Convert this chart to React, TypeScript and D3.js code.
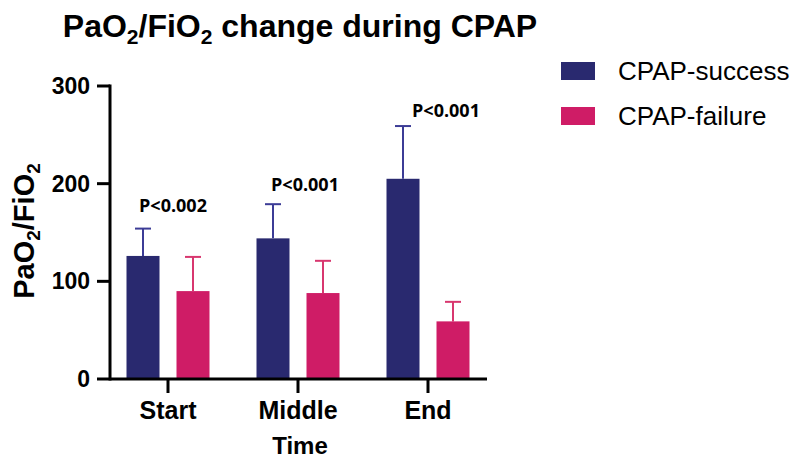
import React from "react";
import { scaleBand, scaleLinear } from "d3";

const categories = ["Start", "Middle", "End"];
const seriesNames = ["CPAP-success", "CPAP-failure"];
const successMean = [126, 144, 205];
const successSD = [28, 35, 54];
const failureMean = [90, 88, 59];
const failureSD = [35, 33, 20];
const pLabels = ["P<0.002", "P<0.001", "P<0.001"];
const yTicks = [0, 100, 200, 300];

const barColors = ["#29296f", "#cf1c66"];
const errColors = ["#3c3c96", "#d8376f"];
// annotation nudges (px) relative to category centre / error cap
const pLabelDx = [5, 7, 18];
const pLabelDy = [-17, -13, -9];

const App = () => {
  const width = 799;
  const height = 462;

  const x0 = scaleBand<string>().domain(categories).range([103, 493]);
  const x1 = scaleBand<string>()
    .domain(seriesNames)
    .range([0, x0.bandwidth()])
    .paddingInner(0.34)
    .paddingOuter(0.47);
  const y = scaleLinear().domain([0, 300]).range([379, 86]);

  const series = [
    { name: seriesNames[0], mean: successMean, sd: successSD },
    { name: seriesNames[1], mean: failureMean, sd: failureSD },
  ];

  const font = "'Liberation Sans', Arial, sans-serif";

  return (
    <svg
      width={width}
      height={height}
      style={{ position: "absolute", left: 0, top: 0, background: "#fff" }}
    >
      <text x={300} y={37} textAnchor="middle" fontFamily={font} fontWeight="bold" fontSize={32}>
        PaO<tspan fontSize={21} dy={7}>2</tspan>
        <tspan dy={-7}>/FiO</tspan>
        <tspan fontSize={21} dy={7}>2</tspan>
        <tspan dy={-7}> change during CPAP</tspan>
      </text>

      {series.map((s, si) =>
        categories.map((c, ci) => {
          const bx = (x0(c) ?? 0) + (x1(s.name) ?? 0);
          const bw = x1.bandwidth();
          const cx = bx + bw / 2;
          const top = y(s.mean[ci]);
          const errTop = y(s.mean[ci] + s.sd[ci]);
          return (
            <g key={s.name + c}>
              <line x1={cx} x2={cx} y1={top} y2={errTop} stroke={errColors[si]} strokeWidth={2} />
              <line x1={cx - 8} x2={cx + 8} y1={errTop} y2={errTop} stroke={errColors[si]} strokeWidth={2} />
              <rect x={bx} y={top} width={bw} height={y(0) - top} fill={barColors[si]} />
            </g>
          );
        })
      )}

      {categories.map((c, ci) => {
        const top = y(successMean[ci] + successSD[ci]);
        return (
          <text
            key={"p" + c}
            x={(x0(c) ?? 0) + x0.bandwidth() / 2 + pLabelDx[ci]}
            y={top + pLabelDy[ci]}
            textAnchor="middle"
            fontFamily="'Open Sans', sans-serif"
            fontWeight="bold"
            fontSize={18}
          >
            {pLabels[ci]}
          </text>
        );
      })}

      {/* y axis */}
      <line x1={110} x2={110} y1={y(300) - 1.5} y2={y(0) + 1.5} stroke="#000" strokeWidth={3} />
      {yTicks.map((t) => (
        <g key={t}>
          <line x1={97} x2={110} y1={y(t)} y2={y(t)} stroke="#000" strokeWidth={3} />
          <text x={90} y={y(t) + 8} textAnchor="end" fontFamily={font} fontWeight="bold" fontSize={23}>
            {t}
          </text>
        </g>
      ))}

      {/* x axis */}
      <line x1={110} x2={487} y1={y(0)} y2={y(0)} stroke="#000" strokeWidth={3} />
      {categories.map((c) => {
        const cx = (x0(c) ?? 0) + x0.bandwidth() / 2;
        return (
          <g key={c}>
            <line x1={cx} x2={cx} y1={y(0)} y2={y(0) + 14} stroke="#000" strokeWidth={3} />
            <text x={cx} y={419} textAnchor="middle" fontFamily={font} fontWeight="bold" fontSize={25}>
              {c}
            </text>
          </g>
        );
      })}

      <text x={300} y={454} textAnchor="middle" fontFamily={font} fontWeight="bold" fontSize={24}>
        Time
      </text>

      <text
        transform="translate(34,231) rotate(-90)"
        textAnchor="middle"
        fontFamily={font}
        fontWeight="bold"
        fontSize={29}
      >
        PaO<tspan fontSize={19} dy={6}>2</tspan>
        <tspan dy={-6}>/FiO</tspan>
        <tspan fontSize={19} dy={6}>2</tspan>
      </text>

      {/* legend */}
      {seriesNames.map((n, i) => (
        <g key={n} transform={`translate(561,${62 + i * 45})`}>
          <rect width={34} height={18} fill={barColors[i]} />
          <text x={57} y={18} fontFamily={font} fontSize={26}>
            {n}
          </text>
        </g>
      ))}
    </svg>
  );
};

export default App;
